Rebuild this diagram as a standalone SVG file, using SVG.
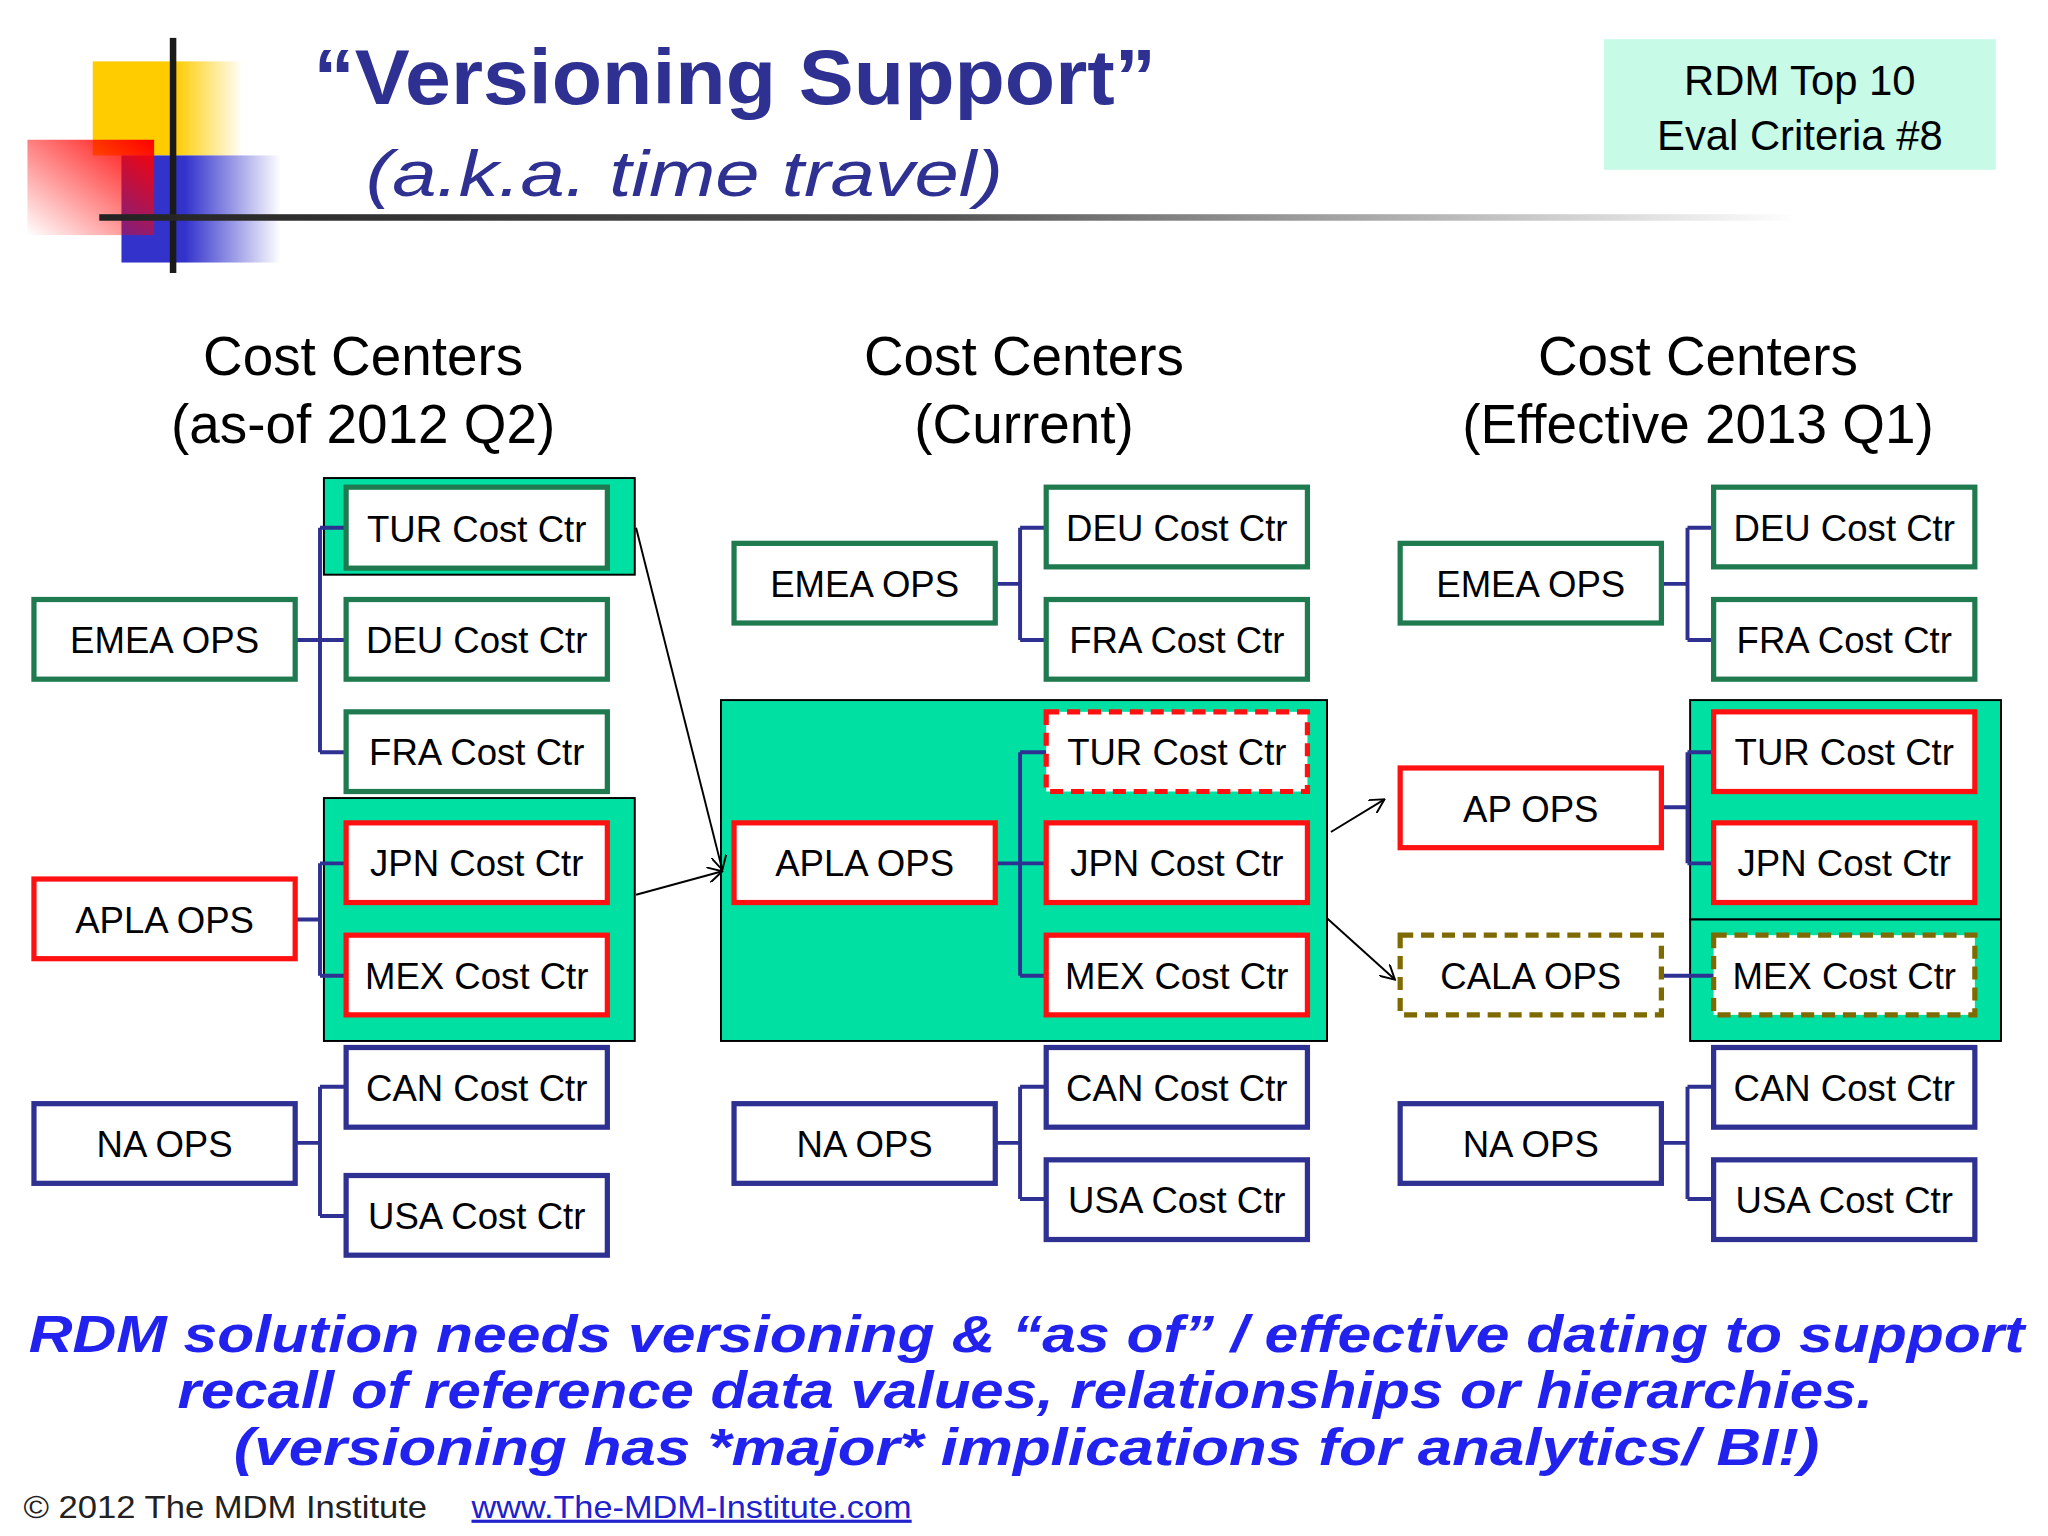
<svg xmlns="http://www.w3.org/2000/svg" width="2048" height="1536" viewBox="0 0 2048 1536">
<defs>
<linearGradient id="gy" x1="0" x2="1"><stop offset="0.55" stop-color="#FFCC00"/><stop offset="1" stop-color="#FFCC00" stop-opacity="0"/></linearGradient>
<linearGradient id="gb" x1="0" x2="1"><stop offset="0.4" stop-color="#3333CC"/><stop offset="1" stop-color="#3333CC" stop-opacity="0"/></linearGradient>
<linearGradient id="gr" x1="1" y1="0" x2="0" y2="1"><stop offset="0" stop-color="#FF0000"/><stop offset="1" stop-color="#FF0000" stop-opacity="0"/></linearGradient>
<linearGradient id="gl" x1="0" x2="1"><stop offset="0" stop-color="#222"/><stop offset="0.5" stop-color="#555"/><stop offset="1" stop-color="#555" stop-opacity="0"/></linearGradient>
<marker id="ah" viewBox="0 0 12 12" refX="11" refY="6" markerWidth="12" markerHeight="12" markerUnits="userSpaceOnUse" orient="auto"><path d="M0,0 L11,6 L0,12" fill="none" stroke="#000" stroke-width="1.5"/></marker>
</defs>
<style>
.t{font-family:"Liberation Sans",Arial,sans-serif;}
.bx{fill:#fff;stroke-width:4;}
.g{stroke:#1F7A50;}
.r{stroke:#FF1111;}
.n{stroke:#2E3092;}
.d{stroke-dasharray:10 6;}
.o{stroke:#7F6A00;}
.hl{fill:#00E0A3;stroke:#000;stroke-width:1.5;}
.lb{font-family:"Liberation Sans",Arial,sans-serif;font-size:28px;fill:#000;text-anchor:middle;}
.hd{font-family:"Liberation Sans",Arial,sans-serif;font-size:42px;fill:#000;text-anchor:middle;}
.br{fill:none;stroke:#2E3092;stroke-width:3;}
.ar{stroke:#000;stroke-width:1.5;fill:none;marker-end:url(#ah);}
</style>
<rect width="2048" height="1536" fill="#fff"/>
<g transform="scale(1.30612)">
<g id="logo">
<rect x="71" y="47" width="115" height="72" fill="url(#gy)"/>
<rect x="93" y="119" width="122" height="82" fill="url(#gb)"/>
<rect x="21" y="107" width="97" height="73" fill="url(#gr)"/>
<rect x="130" y="29" width="5" height="180" fill="#1a1a1a"/>
<rect x="76" y="164" width="1300" height="5" fill="url(#gl)"/>
</g>
<text class="t" x="240" y="80" font-size="60" font-weight="bold" fill="#2E3192" textLength="645" lengthAdjust="spacingAndGlyphs">“Versioning Support”</text>
<text class="t" x="280" y="150" font-size="50" font-style="italic" fill="#2E3192" textLength="488" lengthAdjust="spacingAndGlyphs">(a.k.a. time travel)</text>
<g id="badge"><rect x="1228" y="30" width="300" height="100" fill="#C8FAE8"/>
<text class="t" x="1378" y="73" font-size="32" text-anchor="middle">RDM Top 10</text>
<text class="t" x="1378" y="115" font-size="32" text-anchor="middle">Eval Criteria #8</text></g>
<text class="hd" x="278" y="287">Cost Centers</text><text class="hd" x="278" y="339">(as-of 2012 Q2)</text>
<text class="hd" x="784" y="287">Cost Centers</text><text class="hd" x="784" y="339">(Current)</text>
<text class="hd" x="1300" y="287">Cost Centers</text><text class="hd" x="1300" y="339">(Effective 2013 Q1)</text>

<rect class="hl" x="248" y="366" width="238" height="74"/>
<rect class="hl" x="248" y="611" width="238" height="186"/>
<rect class="hl" x="552" y="536" width="464" height="261"/>
<rect class="hl" x="1294" y="536" width="238" height="168"/>
<rect class="hl" x="1294" y="704" width="238" height="93"/>

<g id="connectors">
<path class="br" d="M226,490H245M245,404V576M245,404H265M245,490H265M245,576H265"/>
<path class="br" d="M226,704H245M245,661V747M245,661H265M245,747H265"/>
<path class="br" d="M226,875H245M245,832V931M245,832H265M245,931H265"/>
<path class="br" d="M762,447H781M781,404V490M781,404H801M781,490H801"/>
<path class="br" d="M762,661H781M781,576V747M781,576H801M781,661H801M781,747H801"/>
<path class="br" d="M762,875H781M781,832V918M781,832H801M781,918H801"/>
<path class="br" d="M1272,447H1292M1292,404V490M1292,404H1312M1292,490H1312"/>
<path class="br" d="M1272,618H1292M1292,576V661M1292,576H1312M1292,661H1312"/>
<path class="br" d="M1272,747H1312"/>
<path class="br" d="M1272,875H1292M1292,832V918M1292,832H1312M1292,918H1312"/>
<line class="ar" x1="487" y1="404" x2="553" y2="666"/>
<line class="ar" x1="487" y1="685" x2="553" y2="667"/>
<line class="ar" x1="1019" y1="637" x2="1060" y2="612"/>
<line class="ar" x1="1016" y1="703" x2="1068" y2="750"/>
</g>

<g id="l-tur"><rect class="bx g" x="265" y="373" width="200" height="62"/><text class="lb" x="365" y="415">TUR Cost Ctr</text></g>
<g id="l-deu"><rect class="bx g" x="265" y="459" width="200" height="61"/><text class="lb" x="365" y="500">DEU Cost Ctr</text></g>
<g id="l-fra"><rect class="bx g" x="265" y="545" width="200" height="61"/><text class="lb" x="365" y="586">FRA Cost Ctr</text></g>
<g id="l-jpn"><rect class="bx r" x="265" y="630" width="200" height="61"/><text class="lb" x="365" y="671">JPN Cost Ctr</text></g>
<g id="l-mex"><rect class="bx r" x="265" y="716" width="200" height="61"/><text class="lb" x="365" y="757">MEX Cost Ctr</text></g>
<g id="l-can"><rect class="bx n" x="265" y="802" width="200" height="61"/><text class="lb" x="365" y="843">CAN Cost Ctr</text></g>
<g id="l-usa"><rect class="bx n" x="265" y="900" width="200" height="61"/><text class="lb" x="365" y="941">USA Cost Ctr</text></g>
<g id="l-emea"><rect class="bx g" x="26" y="459" width="200" height="61"/><text class="lb" x="126" y="500">EMEA OPS</text></g>
<g id="l-apla"><rect class="bx r" x="26" y="673" width="200" height="61"/><text class="lb" x="126" y="714">APLA OPS</text></g>
<g id="l-na"><rect class="bx n" x="26" y="845" width="200" height="61"/><text class="lb" x="126" y="886">NA OPS</text></g>

<g id="m-deu"><rect class="bx g" x="801" y="373" width="200" height="61"/><text class="lb" x="901" y="414">DEU Cost Ctr</text></g>
<g id="m-fra"><rect class="bx g" x="801" y="459" width="200" height="61"/><text class="lb" x="901" y="500">FRA Cost Ctr</text></g>
<g id="m-tur"><rect class="bx r d" x="801" y="545" width="200" height="61"/><text class="lb" x="901" y="586">TUR Cost Ctr</text></g>
<g id="m-jpn"><rect class="bx r" x="801" y="630" width="200" height="61"/><text class="lb" x="901" y="671">JPN Cost Ctr</text></g>
<g id="m-mex"><rect class="bx r" x="801" y="716" width="200" height="61"/><text class="lb" x="901" y="757">MEX Cost Ctr</text></g>
<g id="m-can"><rect class="bx n" x="801" y="802" width="200" height="61"/><text class="lb" x="901" y="843">CAN Cost Ctr</text></g>
<g id="m-usa"><rect class="bx n" x="801" y="888" width="200" height="61"/><text class="lb" x="901" y="929">USA Cost Ctr</text></g>
<g id="m-emea"><rect class="bx g" x="562" y="416" width="200" height="61"/><text class="lb" x="662" y="457">EMEA OPS</text></g>
<g id="m-apla"><rect class="bx r" x="562" y="630" width="200" height="61"/><text class="lb" x="662" y="671">APLA OPS</text></g>
<g id="m-na"><rect class="bx n" x="562" y="845" width="200" height="61"/><text class="lb" x="662" y="886">NA OPS</text></g>

<g id="r-deu"><rect class="bx g" x="1312" y="373" width="200" height="61"/><text class="lb" x="1412" y="414">DEU Cost Ctr</text></g>
<g id="r-fra"><rect class="bx g" x="1312" y="459" width="200" height="61"/><text class="lb" x="1412" y="500">FRA Cost Ctr</text></g>
<g id="r-tur"><rect class="bx r" x="1312" y="545" width="200" height="61"/><text class="lb" x="1412" y="586">TUR Cost Ctr</text></g>
<g id="r-jpn"><rect class="bx r" x="1312" y="630" width="200" height="61"/><text class="lb" x="1412" y="671">JPN Cost Ctr</text></g>
<g id="r-mex"><rect class="bx o d" x="1312" y="716" width="200" height="61"/><text class="lb" x="1412" y="757">MEX Cost Ctr</text></g>
<g id="r-can"><rect class="bx n" x="1312" y="802" width="200" height="61"/><text class="lb" x="1412" y="843">CAN Cost Ctr</text></g>
<g id="r-usa"><rect class="bx n" x="1312" y="888" width="200" height="61"/><text class="lb" x="1412" y="929">USA Cost Ctr</text></g>
<g id="r-emea"><rect class="bx g" x="1072" y="416" width="200" height="61"/><text class="lb" x="1172" y="457">EMEA OPS</text></g>
<g id="r-ap"><rect class="bx r" x="1072" y="588" width="200" height="61"/><text class="lb" x="1172" y="629">AP OPS</text></g>
<g id="r-cala"><rect class="bx o d" x="1072" y="716" width="200" height="61"/><text class="lb" x="1172" y="757">CALA OPS</text></g>
<g id="r-na"><rect class="bx n" x="1072" y="845" width="200" height="61"/><text class="lb" x="1172" y="886">NA OPS</text></g>

<g class="t" font-size="40" font-style="italic" font-weight="bold" fill="#2222EE" text-anchor="middle">
<text x="786" y="1035" textLength="1528" lengthAdjust="spacingAndGlyphs">RDM solution needs versioning  &amp; “as of” / effective dating to support</text>
<text x="785" y="1078" textLength="1298" lengthAdjust="spacingAndGlyphs">recall of reference data values, relationships or hierarchies.</text>
<text x="786" y="1122" textLength="1214" lengthAdjust="spacingAndGlyphs">(versioning has *major* implications for analytics/ BI!)</text>
</g>
<text class="t" x="18" y="1162" font-size="24" fill="#222" textLength="309" lengthAdjust="spacingAndGlyphs">© 2012 The MDM Institute</text>
<text class="t" x="361" y="1162" font-size="24" fill="#2020CC" text-decoration="underline" textLength="337" lengthAdjust="spacingAndGlyphs">www.The-MDM-Institute.com</text>
</g>
</svg>
